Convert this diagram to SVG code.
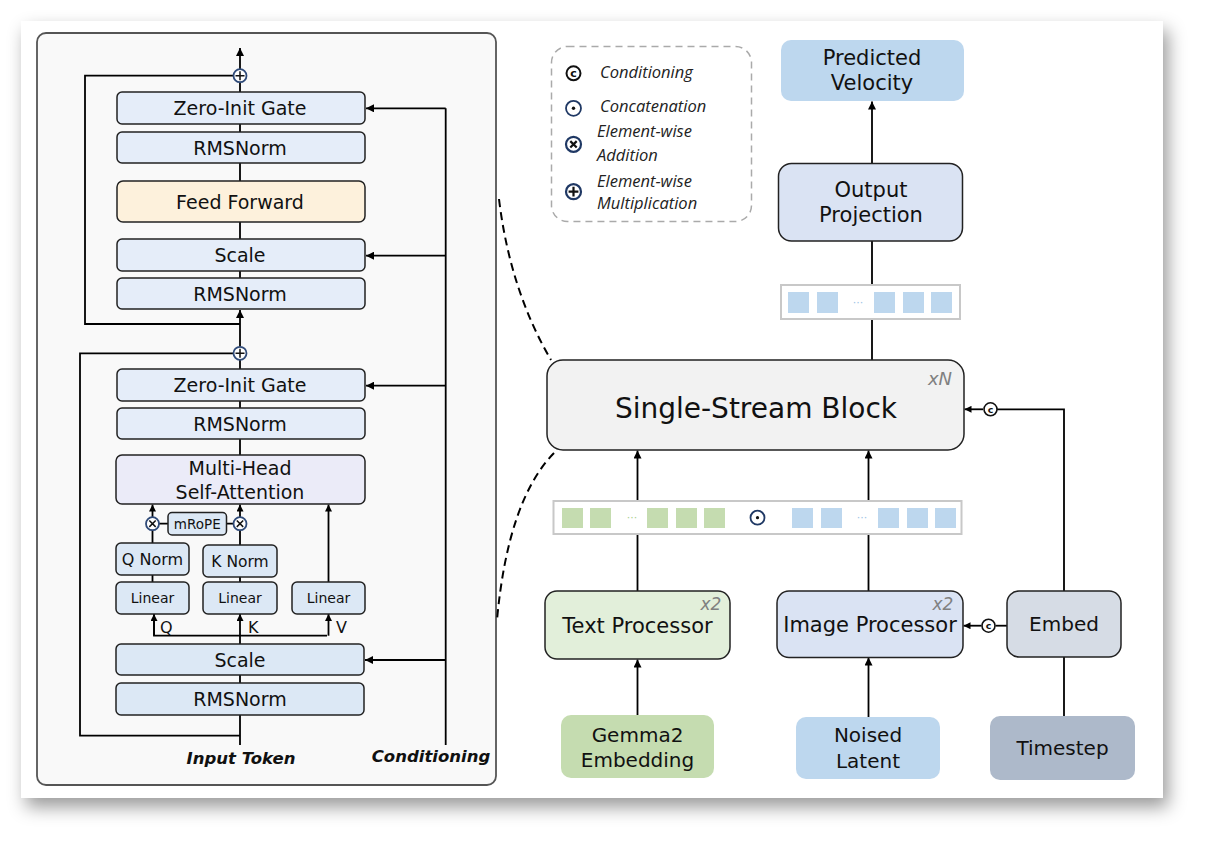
<svg xmlns="http://www.w3.org/2000/svg" width="1205" height="841" viewBox="0 0 1205 841">
<defs>
<filter id="sh" x="-5%" y="-5%" width="112%" height="118%">
<feDropShadow dx="5" dy="9" stdDeviation="9" flood-color="#000" flood-opacity="0.4"/>
</filter>
<marker id="ar" viewBox="0 0 10 10" refX="10" refY="5" markerWidth="9" markerHeight="8" markerUnits="userSpaceOnUse" orient="auto">
<path d="M0,0 L10,5 L0,10 z" fill="#000"/>
</marker>
<marker id="ars" viewBox="0 0 10 10" refX="10" refY="5" markerWidth="7" markerHeight="7" markerUnits="userSpaceOnUse" orient="auto">
<path d="M0,0 L10,5 L0,10 z" fill="#000"/>
</marker>
</defs>
<style>
.t{font-family:"DejaVu Sans",sans-serif;font-size:19px;fill:#111;text-anchor:middle}
.s{font-family:"DejaVu Sans",sans-serif;font-size:14px;fill:#111;text-anchor:middle}
.lbl{font-family:"DejaVu Sans",sans-serif;font-size:16px;fill:#111}
.big{font-family:"DejaVu Sans",sans-serif;font-size:21px;fill:#111;text-anchor:middle}
.rep{font-family:"DejaVu Sans",sans-serif;font-style:italic;font-size:17px;fill:#808080;text-anchor:middle}
.bi{font-family:"DejaVu Sans",sans-serif;font-style:italic;font-weight:bold;font-size:16.5px;fill:#111;text-anchor:middle}
.lg{font-family:"Open Sans",sans-serif;font-style:italic;font-size:16.5px;fill:#222}
.box{stroke:#222;stroke-width:1.5}
.ln{stroke:#000;stroke-width:1.8;fill:none}
.op{fill:#fff;stroke:#2f4a78;stroke-width:1.8}
.opk{stroke:#111;stroke-width:1.5}
.tok{fill:#fff;stroke:#c8c8c8;stroke-width:2}
.g{fill:#c5dcb0}
.b{fill:#bdd7ee}
</style>

<rect x="21" y="21" width="1142" height="777" fill="#fff" filter="url(#sh)"/>

<g id="detail-panel">
<rect x="37" y="33" width="459" height="752" rx="9" fill="#f9f9f9" stroke="#555" stroke-width="1.8"/>
</g>

<g id="connectors">
<path class="ln" d="M240,324 H85 V75.7 H233.5"/>
<path class="ln" d="M240,69.2 V48" marker-end="url(#ar)"/>
<path class="ln" d="M240,92 V82.2"/>
<path class="ln" d="M240,124 V132 M240,163 V181 M240,222 V239 M240,271 V278"/>
<path class="ln" d="M240,346.8 V310" marker-end="url(#ar)"/>
<path class="ln" d="M240,735.7 H80 V353.3 H233.5"/>
<path class="ln" d="M240,369 V359.8"/>
<path class="ln" d="M240,401 V408 M240,439 V455 M240,675 V683 M240,715 V745"/>
<path class="ln" d="M240,644 V614" marker-end="url(#ars)"/>
<path class="ln" d="M154,614 V635.7 H327"/>
<path class="ln" d="M154,635.7 V614" marker-end="url(#ars)"/>
<path class="ln" d="M328.5,635.7 V614" marker-end="url(#ars)"/>
<path class="ln" d="M152.5,582 V575 M152.5,543 V530.2"/>
<path class="ln" d="M240,582 V577 M240,545 V530.2"/>
<path class="ln" d="M152.5,517.2 V504.5" marker-end="url(#ars)"/>
<path class="ln" d="M240,517.2 V504.5" marker-end="url(#ars)"/>
<path class="ln" d="M328.5,582 V504.5" marker-end="url(#ars)"/>
<path class="ln" d="M159,523.7 H168 M226.5,523.7 H233.5"/>
<path class="ln" d="M445.7,745 V108.3"/>
<path class="ln" d="M445.7,108.3 H366" marker-end="url(#ar)"/>
<path class="ln" d="M445.7,255.7 H366" marker-end="url(#ar)"/>
<path class="ln" d="M445.7,385.7 H366" marker-end="url(#ar)"/>
<path class="ln" d="M445.7,660 H365" marker-end="url(#ar)"/>
<path d="M499,199 Q510,290 551,360" fill="none" stroke="#000" stroke-width="2" stroke-dasharray="8,5"/>
<path d="M554,453 Q508,500 497,620" fill="none" stroke="#000" stroke-width="2" stroke-dasharray="8,5"/>
<path class="ln" d="M872,163 V101.5" marker-end="url(#ar)"/>
<path class="ln" d="M872,241 V285 M872,319 V360"/>
<path class="ln" d="M637.5,501 V450.5" marker-end="url(#ar)"/>
<path class="ln" d="M868.5,501 V450.5" marker-end="url(#ar)"/>
<path class="ln" d="M637.5,591 V534 M868.5,591 V534"/>
<path class="ln" d="M637.5,715 V659.5" marker-end="url(#ar)"/>
<path class="ln" d="M868.5,717 V657.5" marker-end="url(#ar)"/>
<path class="ln" d="M1064,716 V657"/>
<path class="ln" d="M1064,591 V409.3 H997"/>
<path class="ln" d="M983,409.3 H964.5" marker-end="url(#ars)"/>
<path class="ln" d="M1007,625.7 H995.5"/>
<path class="ln" d="M981.5,625.7 H963.5" marker-end="url(#ars)"/>
</g>

<g id="op-add-top">
<circle class="op" cx="240" cy="75.7" r="6.5"/>
<path class="opk" d="M235.5,75.7 H244.5 M240,71.2 V80.2"/>
</g>
<g id="op-add-mid">
<circle class="op" cx="240" cy="353.3" r="6.5"/>
<path class="opk" d="M235.5,353.3 H244.5 M240,348.8 V357.8"/>
</g>
<g id="op-mul-q">
<circle class="op" cx="152.5" cy="523.7" r="6.5"/>
<path class="opk" d="M149.3,520.5 L155.7,526.9 M155.7,520.5 L149.3,526.9"/>
</g>
<g id="op-mul-k">
<circle class="op" cx="240" cy="523.7" r="6.5"/>
<path class="opk" d="M236.8,520.5 L243.2,526.9 M243.2,520.5 L236.8,526.9"/>
</g>

<g id="zero-init-gate-1"><rect class="box" x="117" y="92" width="248" height="32" rx="5" fill="#e5edf9"/><text class="t" x="240" y="115">Zero-Init Gate</text></g>
<g id="rmsnorm-1"><rect class="box" x="117" y="132" width="248" height="31" rx="5" fill="#e5edf9"/><text class="t" x="240" y="154.5">RMSNorm</text></g>
<g id="feed-forward"><rect class="box" x="117" y="181" width="248" height="41" rx="6" fill="#fdf1dc"/><text class="t" x="240" y="208.5">Feed Forward</text></g>
<g id="scale-1"><rect class="box" x="117" y="239" width="248" height="32" rx="5" fill="#e5edf9"/><text class="t" x="240" y="262">Scale</text></g>
<g id="rmsnorm-2"><rect class="box" x="117" y="278" width="248" height="31" rx="5" fill="#e5edf9"/><text class="t" x="240" y="300.5">RMSNorm</text></g>

<g id="zero-init-gate-2"><rect class="box" x="117" y="369" width="248" height="32" rx="5" fill="#e5edf9"/><text class="t" x="240" y="392">Zero-Init Gate</text></g>
<g id="rmsnorm-3"><rect class="box" x="117" y="408" width="248" height="31" rx="5" fill="#e5edf9"/><text class="t" x="240" y="430.5">RMSNorm</text></g>
<g id="mhsa"><rect class="box" x="116" y="455" width="249" height="49" rx="6" fill="#ebebf8"/><text class="t" x="240" y="475">Multi-Head</text><text class="t" x="240" y="498.5">Self-Attention</text></g>
<g id="mrope"><rect class="box" x="168" y="512.5" width="58.5" height="22.5" rx="4" fill="#dce8f5"/><text class="s" x="197.3" y="528.5" style="font-size:13.5px">mRoPE</text></g>
<g id="q-norm"><rect class="box" x="116" y="543" width="73" height="32" rx="5" fill="#dce8f5"/><text class="s" x="152.5" y="565" style="font-size:16px">Q Norm</text></g>
<g id="k-norm"><rect class="box" x="203" y="545" width="74" height="32" rx="5" fill="#dce8f5"/><text class="s" x="240" y="567" style="font-size:15.5px">K Norm</text></g>
<g id="linear-q"><rect class="box" x="116" y="582" width="73" height="32" rx="5" fill="#dce8f5"/><text class="s" x="152.5" y="603">Linear</text></g>
<g id="linear-k"><rect class="box" x="203" y="582" width="74" height="32" rx="5" fill="#dce8f5"/><text class="s" x="240" y="603">Linear</text></g>
<g id="linear-v"><rect class="box" x="292" y="582" width="73" height="32" rx="5" fill="#dce8f5"/><text class="s" x="328.5" y="603">Linear</text></g>
<g id="qkv-labels"><text class="lbl" x="160" y="633">Q</text><text class="lbl" x="248" y="633">K</text><text class="lbl" x="336" y="633">V</text></g>
<g id="scale-2"><rect class="box" x="116" y="644" width="248" height="31" rx="5" fill="#dce8f5"/><text class="t" x="240" y="667">Scale</text></g>
<g id="rmsnorm-4"><rect class="box" x="116" y="683" width="248" height="32" rx="5" fill="#dce8f5"/><text class="t" x="240" y="706">RMSNorm</text></g>
<g id="input-token-label"><text class="bi" x="241" y="764">Input Token</text></g>
<g id="conditioning-label"><text class="bi" x="431" y="762">Conditioning</text></g>

<g id="legend">
<rect x="551.5" y="46.5" width="200" height="175" rx="16" fill="none" stroke="#aaa" stroke-width="1.5" stroke-dasharray="7,5"/>
<circle cx="573.5" cy="73.3" r="7" fill="#fff" stroke="#111" stroke-width="2"/>
<text x="573.5" y="77.3" style="font-family:'DejaVu Sans',sans-serif;font-size:11px;font-weight:bold;text-anchor:middle;fill:#111">c</text>
<text class="lg" x="600" y="78">Conditioning</text>
<circle cx="573.5" cy="108.3" r="7.5" fill="#fff" stroke="#1f3864" stroke-width="1.8"/>
<circle cx="573.5" cy="108.3" r="1.7" fill="#111"/>
<text class="lg" x="600" y="112">Concatenation</text>
<circle cx="573.5" cy="144.3" r="7.5" fill="#fff" stroke="#1f3864" stroke-width="2.2"/>
<path d="M570.3,141.1 L576.7,147.5 M576.7,141.1 L570.3,147.5" stroke="#111" stroke-width="2.2"/>
<text class="lg" x="597" y="137">Element-wise</text>
<text class="lg" x="597" y="161">Addition</text>
<circle cx="573.5" cy="191.7" r="7.5" fill="#fff" stroke="#1f3864" stroke-width="2.2"/>
<path d="M568.6,191.7 H578.4 M573.5,186.8 V196.6" stroke="#111" stroke-width="2.2"/>
<text class="lg" x="597" y="187">Element-wise</text>
<text class="lg" x="597" y="209">Multiplication</text>
</g>

<g id="predicted-velocity"><rect x="781" y="40" width="183" height="61" rx="10" fill="#bdd7ee"/><text class="big" x="872" y="65">Predicted</text><text class="big" x="872" y="90">Velocity</text></g>
<g id="output-projection"><rect class="box" x="778.5" y="163.5" width="184" height="77.5" rx="13" fill="#dae3f3"/><text class="big" x="871" y="197">Output</text><text class="big" x="871" y="222">Projection</text></g>
<g id="output-tokens">
<rect class="tok" x="781" y="285" width="179" height="34"/>
<rect class="b" x="788" y="292" width="21" height="21"/><rect class="b" x="817" y="292" width="21" height="21"/>
<text x="858" y="306" style="font-family:'DejaVu Sans',sans-serif;font-size:11px;fill:#9dc3e6;text-anchor:middle">···</text>
<rect class="b" x="874" y="292" width="21" height="21"/><rect class="b" x="903" y="292" width="21" height="21"/><rect class="b" x="931" y="292" width="21" height="21"/>
</g>
<g id="single-stream-block"><rect class="box" x="547" y="360" width="417" height="90" rx="16" fill="#f2f2f2" stroke-width="1.8"/><text class="t" x="756" y="417.5" style="font-size:28px">Single-Stream Block</text><text class="rep" x="940" y="385" style="font-size:18px">xN</text></g>
<g id="cond-single">
<circle cx="990.5" cy="409.3" r="6.5" fill="#fff" stroke="#111" stroke-width="1.6"/>
<text x="990.5" y="413" style="font-family:'DejaVu Sans',sans-serif;font-size:9.5px;font-weight:bold;text-anchor:middle;fill:#111">c</text>
</g>
<g id="input-tokens">
<rect class="tok" x="553.5" y="501" width="408" height="33"/>
<rect class="g" x="562" y="508" width="21" height="20"/><rect class="g" x="590" y="508" width="21" height="20"/>
<text x="632" y="521" style="font-family:'DejaVu Sans',sans-serif;font-size:11px;fill:#a9d08e;text-anchor:middle">···</text>
<rect class="g" x="647" y="508" width="21" height="20"/><rect class="g" x="676" y="508" width="21" height="20"/><rect class="g" x="704" y="508" width="21" height="20"/>
<circle cx="757.5" cy="517.7" r="7" fill="#fff" stroke="#1f3864" stroke-width="1.8"/><circle cx="757.5" cy="517.7" r="1.6" fill="#111"/>
<rect class="b" x="792" y="508" width="21" height="20"/><rect class="b" x="821" y="508" width="21" height="20"/>
<text x="862" y="521" style="font-family:'DejaVu Sans',sans-serif;font-size:11px;fill:#9dc3e6;text-anchor:middle">···</text>
<rect class="b" x="878" y="508" width="21" height="20"/><rect class="b" x="907" y="508" width="21" height="20"/><rect class="b" x="935" y="508" width="21" height="20"/>
</g>
<g id="text-processor"><rect class="box" x="545" y="591" width="185" height="68" rx="12" fill="#e2efda" stroke-width="1.8"/><text class="big" x="637.5" y="633">Text Processor</text><text class="rep" x="711" y="610">x2</text></g>
<g id="image-processor"><rect class="box" x="777" y="591" width="186" height="66.5" rx="12" fill="#dae3f3" stroke-width="1.8"/><text class="big" x="870" y="632">Image Processor</text><text class="rep" x="943" y="610">x2</text></g>
<g id="cond-image">
<circle cx="988.5" cy="625.7" r="6.5" fill="#fff" stroke="#111" stroke-width="1.6"/>
<text x="988.5" y="629.4" style="font-family:'DejaVu Sans',sans-serif;font-size:9.5px;font-weight:bold;text-anchor:middle;fill:#111">c</text>
</g>
<g id="embed"><rect class="box" x="1007" y="591" width="114" height="66" rx="12" fill="#d6dce5" stroke-width="1.8"/><text class="big" x="1064" y="631" style="font-size:20px">Embed</text></g>
<g id="gemma2-embedding"><rect x="561" y="715" width="153" height="63" rx="10" fill="#c5dcb0"/><text class="big" x="637.5" y="742" style="font-size:20px">Gemma2</text><text class="big" x="637.5" y="767" style="font-size:20px">Embedding</text></g>
<g id="noised-latent"><rect x="796" y="717" width="144" height="62" rx="10" fill="#bdd7ee"/><text class="big" x="868" y="742" style="font-size:20px">Noised</text><text class="big" x="868" y="768" style="font-size:20px">Latent</text></g>
<g id="timestep"><rect x="990" y="716" width="145" height="64" rx="10" fill="#adb9ca"/><text class="big" x="1062.5" y="755" style="font-size:20px">Timestep</text></g>
</svg>
